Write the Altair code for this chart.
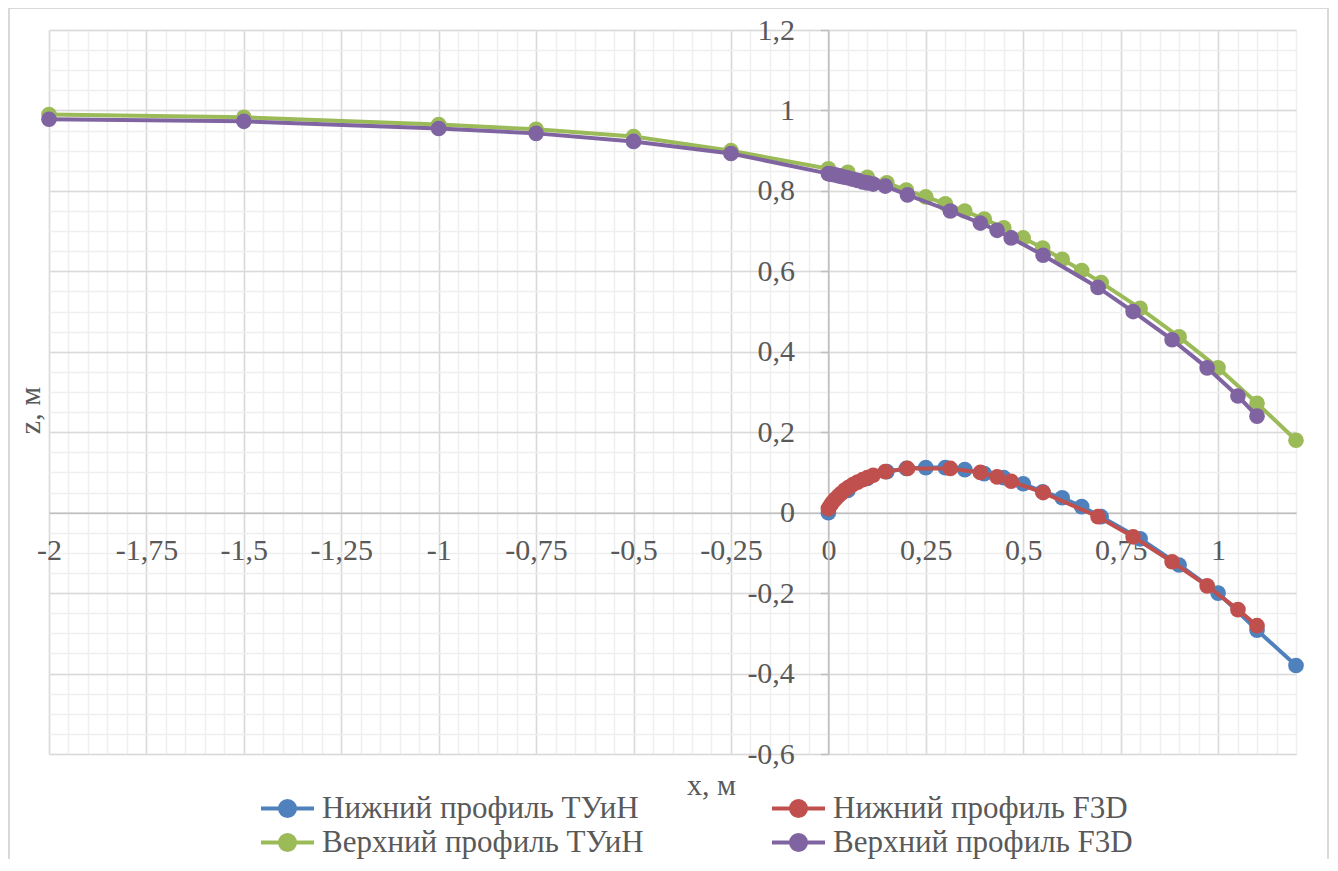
import altair as alt
import pandas as pd

series_names = ["Нижний профиль ТУиН", "Нижний профиль F3D", "Верхний профиль ТУиН", "Верхний профиль F3D"]
series_colors = ["#4F81BD", "#C0504D", "#9BBB59", "#8064A2"]
# legend is laid out column by column, so list the entries in that order
legend_order = [0, 2, 1, 3]

x_lower_tuin = [0, 0.05, 0.1, 0.15, 0.2, 0.25, 0.3, 0.35, 0.4, 0.45, 0.5, 0.55, 0.6, 0.65, 0.7,
                0.8, 0.9, 1.0, 1.1, 1.2]
z_lower_tuin = [0, 0.055, 0.085, 0.102, 0.11, 0.112, 0.112, 0.107, 0.097, 0.087, 0.072, 0.052, 0.037, 0.015, -0.01,
                -0.065, -0.13, -0.2, -0.292, -0.38]

x_lower_f3d = [0, 0.005, 0.01, 0.017, 0.025, 0.033, 0.042, 0.052, 0.063, 0.075, 0.088, 0.1, 0.115,
               0.146, 0.203, 0.313, 0.39, 0.433, 0.469, 0.551, 0.692, 0.782, 0.882, 0.972, 1.051, 1.1]
z_lower_f3d = [0.01, 0.018, 0.025, 0.033, 0.041, 0.048, 0.056, 0.063, 0.07, 0.076, 0.082, 0.087, 0.093,
               0.102, 0.11, 0.11, 0.1, 0.089, 0.078, 0.05, -0.01, -0.06, -0.122, -0.182, -0.241, -0.281]

x_upper_tuin = [-2, -1.5, -1, -0.75, -0.5, -0.25, 0, 0.05, 0.1, 0.15, 0.2, 0.25, 0.3, 0.35, 0.4, 0.45,
                0.5, 0.55, 0.6, 0.65, 0.7, 0.8, 0.9, 1.0, 1.1, 1.2]
z_upper_tuin = [0.99, 0.983, 0.965, 0.953, 0.935, 0.9, 0.855, 0.846, 0.834, 0.82, 0.802, 0.785, 0.768, 0.75,
                0.73, 0.708, 0.683, 0.658, 0.63, 0.602, 0.572, 0.508, 0.437, 0.36, 0.272, 0.18]

x_upper_f3d = [-2, -1.5, -1, -0.75, -0.5, -0.25, 0, 0.005, 0.01, 0.017, 0.025, 0.033, 0.042, 0.052, 0.063,
               0.075, 0.088, 0.1, 0.115, 0.146, 0.203, 0.313, 0.39, 0.433, 0.469, 0.551, 0.692, 0.782,
               0.882, 0.972, 1.051, 1.1]
z_upper_f3d = [0.978, 0.973, 0.955, 0.943, 0.923, 0.893, 0.843, 0.842, 0.841, 0.840, 0.838, 0.836, 0.834,
               0.832, 0.829, 0.826, 0.822, 0.82, 0.817, 0.812, 0.79, 0.75, 0.72, 0.702, 0.683, 0.64, 0.56,
               0.5, 0.43, 0.36, 0.29, 0.24]

major_x = [-2, -1.75, -1.5, -1.25, -1, -0.75, -0.5, -0.25, 0, 0.25, 0.5, 0.75, 1]
major_y = [-0.6, -0.4, -0.2, 0, 0.2, 0.4, 0.6, 0.8, 1, 1.2]
minor_x = [round(-2 + 0.05 * i, 2) for i in range(65)]
minor_y = [round(-0.6 + 0.05 * i, 2) for i in range(37)]

all_x = [x_lower_tuin, x_lower_f3d, x_upper_tuin, x_upper_f3d]
all_z = [z_lower_tuin, z_lower_f3d, z_upper_tuin, z_upper_f3d]

frames = []
for name, xs_, zs_ in zip(series_names, all_x, all_z):
    frames.append(pd.DataFrame({"x": xs_, "z": zs_, "series": name}))
df = pd.concat(frames, ignore_index=True)

FONT = "Liberation Serif"
TXT = "#595959"
W, H = 1247, 724
X0, X1 = -2, 1.2
Y0, Y1 = -0.6, 1.2
off_y_axis = -W * (0 - X0) / (X1 - X0)
off_x_axis = -H * (0 - Y0) / (Y1 - Y0)

xscale = alt.Scale(domain=[X0, X1], nice=False, zero=False)
yscale = alt.Scale(domain=[Y0, Y1], nice=False, zero=False)
cscale = alt.Scale(domain=[series_names[i] for i in legend_order],
                   range=[series_colors[i] for i in legend_order])

label_expr = "replace(toString(datum.value), '.', ',')"

minor = alt.Chart(df).mark_point(opacity=0).encode(
    x=alt.X("x:Q", scale=xscale, axis=alt.Axis(
        orient="bottom", values=minor_x, grid=True, gridColor="#efefef", gridWidth=1.5,
        labels=False, ticks=False, domain=False, title="x, м",
        titleFont=FONT, titleFontSize=30, titleFontWeight="normal", titleColor=TXT,
        titleX=662, titleY=31, titleBaseline="middle", titleAlign="center")),
    y=alt.Y("z:Q", scale=yscale, axis=alt.Axis(
        orient="left", values=minor_y, grid=True, gridColor="#efefef", gridWidth=1.5,
        labels=False, ticks=False, domain=False, title="z, м",
        titleFont=FONT, titleFontSize=30, titleFontWeight="normal", titleColor=TXT,
        titleX=-19, titleY=380, titleAngle=270, titleBaseline="middle", titleAlign="center")),
)

major = alt.Chart(df).mark_point(opacity=0).encode(
    x=alt.X("x:Q", scale=xscale, axis=alt.Axis(
        orient="bottom", values=major_x, grid=True, gridColor="#d9d9d9", gridWidth=1.5,
        labelExpr=label_expr, labelFont=FONT, labelFontSize=30, labelColor=TXT,
        labelPadding=23, labelBaseline="top", labelFlush=False, labelOverlap=False,
        ticks=False, domain=True, domainColor="#bfbfbf", domainWidth=1.5,
        offset=off_x_axis, title=None)),
    y=alt.Y("z:Q", scale=yscale, axis=alt.Axis(
        orient="left", values=major_y, grid=True, gridColor="#d9d9d9", gridWidth=1.5,
        labelExpr=label_expr, labelFont=FONT, labelFontSize=30, labelColor=TXT,
        labelPadding=26, labelBaseline="middle", labelFlush=False, labelOverlap=False,
        ticks=True, tickSize=8, tickColor="#bfbfbf", tickWidth=1.5,
        domain=True, domainColor="#bfbfbf", domainWidth=1.5,
        offset=off_y_axis, title=None)),
)

legend = alt.Legend(
    orient="none", legendX=223, legendY=763, columns=2, columnPadding=120, rowPadding=2,
    title=None, padding=0,
    symbolType="M-2.65,0H2.65M0.75,0A0.75,0.75,0,1,1,-0.75,0A0.75,0.75,0,1,1,0.75,0Z",
    symbolSize=400, symbolStrokeWidth=4, labelOffset=19,
    labelFont=FONT, labelFontSize=31, labelColor=TXT, labelLimit=700,
)

frame = alt.Chart(pd.DataFrame({"k": [0]})).mark_rect(
    fill=None, stroke="#d9d9d9", strokeWidth=2
).encode(x=alt.value(-40), x2=alt.value(1279), y=alt.value(-22), y2=alt.value(838))

layers = [frame, minor, major]
for name in series_names:
    sub = alt.Chart(df).transform_filter(alt.datum.series == name)
    line = sub.mark_line(strokeWidth=4).encode(
        x=alt.X("x:Q", scale=xscale, axis=None),
        y=alt.Y("z:Q", scale=yscale, axis=None),
        color=alt.Color("series:N", scale=cscale, legend=legend),
    )
    pts = sub.mark_point(filled=True, size=245, opacity=1).encode(
        x=alt.X("x:Q", scale=xscale, axis=None),
        y=alt.Y("z:Q", scale=yscale, axis=None),
        color=alt.Color("series:N", scale=cscale, legend=legend),
    )
    layers += [line, pts]

chart = alt.layer(*layers).resolve_axis(x="independent", y="independent").properties(
    width=W, height=H,
    autosize=alt.AutoSizeParams(type="none"),
    padding={"left": 41, "top": 22, "right": 34, "bottom": 105},
).configure_view(stroke=None).configure(background="white")

chart.save("out.html", embed_options={"renderer": "svg", "actions": False})
